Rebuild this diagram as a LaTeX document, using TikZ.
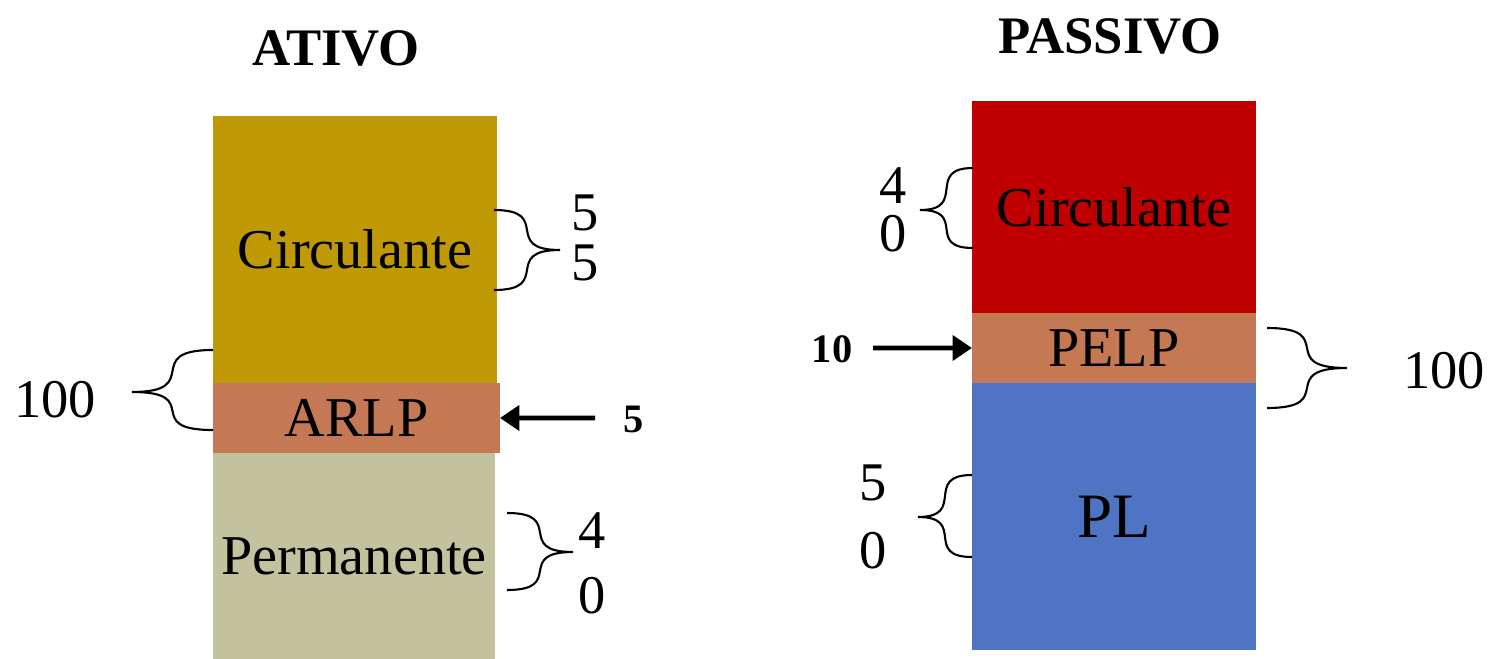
\documentclass[tikz,border=0pt]{standalone}
\usepackage{fontspec}
\setmainfont{Liberation Serif}
\usetikzlibrary{arrows.meta}
\definecolor{ouro}{HTML}{C09A06}
\definecolor{telha}{HTML}{C47853}
\definecolor{caqui}{HTML}{C2C39E}
\definecolor{vermelho}{HTML}{C00000}
\definecolor{azul}{HTML}{4F74C3}

\begin{document}
\begin{tikzpicture}[x=0.02cm,y=-0.02cm,
	bloco/.style={inner sep=0pt,outer sep=0pt,anchor=north west,font=\fontsize{32}{38}\selectfont},
	titulo/.style={font=\bfseries\fontsize{30}{36}\selectfont},
	valor/.style={inner sep=0pt,align=center,font=\fontsize{31}{28}\selectfont},
	negrito/.style={inner sep=0pt,font=\bfseries\fontsize{23}{27}\selectfont},
	chave/.style={line width=1.2pt},
	seta/.style={line width=2.8pt,-{Triangle[length=11pt,width=14pt]}}]
	\useasboundingbox (0,0) rectangle (1488,659);
	% ativo
	\path (336,48) node[titulo] (tA) {ATIVO};
	\path (213,116) node[bloco,fill=ouro,minimum width=5.68cm,minimum height=5.34cm] (circA) {Circulante};
	\path (213,383) node[bloco,fill=telha,minimum width=5.74cm,minimum height=1.4cm] (arlp) {ARLP};
	\path (213,453) node[bloco,fill=caqui,minimum width=5.64cm,minimum height=4.12cm] (perm) {Permanente};
	% passivo
	\path (1110,36) node[titulo] (tP) {PASSIVO};
	\path (972,101) node[bloco,fill=vermelho,minimum width=5.68cm,minimum height=4.24cm] (circP) {Circulante};
	\path (972,313) node[bloco,fill=telha,minimum width=5.68cm,minimum height=1.4cm] (pelp) {PELP};
	\path (972,383) node[bloco,fill=azul,minimum width=5.68cm,minimum height=5.34cm,font=\fontsize{36}{42}\selectfont] (pl) {PL};
	% valores
	\path (55,400) node[valor] (v100A) {100};
	\path (585,238) node[valor] (v55) {5\\5};
	\path (592,563) node[valor,font=\fontsize{31}{37}\selectfont] (v40A) {4\\0};
	\path (893,210) node[valor,font=\fontsize{31}{27}\selectfont] (v40P) {4\\0};
	\path (873,517) node[valor,font=\fontsize{31}{39}\selectfont] (v50) {5\\0};
	\path (1444,371) node[valor] (v100P) {100};
	\path (634,419) node[negrito] (v5) {5};
	\path (832,349) node[negrito] (v10) {10};
	% setas
	\coordinate (p5) at (595,418);
	\coordinate (p10) at (873,348);
	\draw[seta] (p5) -- (arlp.east);
	\draw[seta] (p10) -- (pelp.west);
	% chaves
	\draw[chave] (213,350) .. controls (140,350) and (205,392) .. (132,392) .. controls (205,392) and (140,430) .. (213,430);
	\draw[chave] (494,210) .. controls (553,210) and (501,250) .. (560,250) .. controls (501,250) and (553,290) .. (494,290);
	\draw[chave] (507,513) .. controls (566,513) and (514,552) .. (573,552) .. controls (514,552) and (566,590) .. (507,590);
	\draw[chave] (973,168) .. controls (925,168) and (968,210) .. (920,210) .. controls (968,210) and (925,248) .. (973,248);
	\draw[chave] (1267,328) .. controls (1339,328) and (1275,368) .. (1347,368) .. controls (1275,368) and (1339,408) .. (1267,408);
	\draw[chave] (972,475) .. controls (923,475) and (967,517) .. (918,517) .. controls (967,517) and (923,557) .. (972,557);
\end{tikzpicture}
\end{document}
